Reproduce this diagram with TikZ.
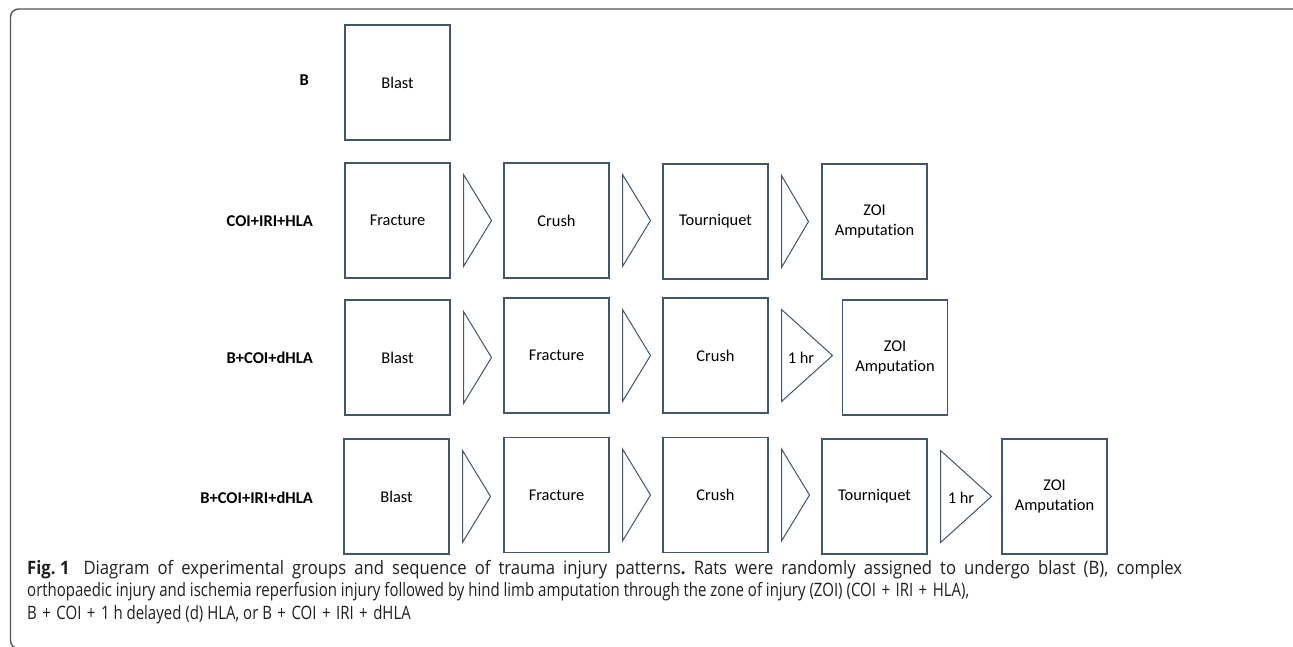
\documentclass[tikz,border=0pt]{standalone}
\usepackage{fontspec}
\setmainfont{Carlito}[Ligatures=NoCommon]
\newfontfamily\capfont[FakeStretch=0.81]{Open Sans}
\newfontfamily\capfontw[FakeStretch=0.9]{Open Sans}
\usetikzlibrary{calc}
\definecolor{boxc}{RGB}{68,84,106}
\definecolor{framec}{RGB}{85,85,85}
\definecolor{capc}{RGB}{35,31,32}
\newcommand\pl{\hspace{5.5pt}+\hspace{5.5pt}}
\tikzset{
  x=1pt, y=-1pt,
  stepbox/.style={draw=boxc, line width=1.2pt, minimum width=105pt, minimum height=115pt,
    inner sep=0pt, outer sep=0pt, align=center, text=black,
    font=\fontsize{16.4}{19.5}\selectfont},
  grplabel/.style={anchor=east, inner sep=0pt, font=\fontsize{16.5}{19.5}\selectfont\bfseries},
  chevline/.style={draw=boxc, line width=1pt, line join=miter},
  hrlabel/.style={inner sep=0pt, font=\fontsize{16.4}{19.5}\selectfont},
  capline/.style={anchor=base west, inner sep=0pt, text=capc, font=\capfont\fontsize{18.5}{22.7}\selectfont\frenchspacing},
  caplinew/.style={capline, font=\capfontw\fontsize{18.5}{22.7}\selectfont\frenchspacing}
}
\newcommand\chevr[2]{%
  \draw[chevline] ($(#1.east)+(13.5,-46)$) -- ($(#1.east)+(13.5+#2,0)$) -- ($(#1.east)+(13.5,46)$) -- cycle;}
\begin{document}
\begin{tikzpicture}
\useasboundingbox (0,0) rectangle (1293,647);
\begin{scope}
\clip (0,0) rectangle (1293,647);
\draw[framec, line width=1.4pt, rounded corners=8pt] (10.5,9) rectangle (1301,648.5);
\end{scope}

% row 1
\node[grplabel] (l1) at (309,80) {B};
\node[stepbox] (r1a) at (397.5,82.5) {Blast};

% row 2
\node[grplabel] (l2) at (313,221) {COI+IRI+HLA};
\node[stepbox] (r2a) at (397.5,220.5) {Fracture};
\node[stepbox] (r2b) at (556.5,220.5) {Crush};
\node[stepbox] (r2c) at (715.5,221.5) {Tourniquet};
\node[stepbox] (r2d) at (874.5,221.5) {ZOI\\Amputation};
\chevr{r2a}{28}
\chevr{r2b}{28}
\chevr{r2c}{27}

% row 3
\node[grplabel] (l3) at (313,358) {B+COI+dHLA};
\node[stepbox] (r3a) at (397.5,357.5) {Blast};
\node[stepbox] (r3b) at (556.5,355.5) {Fracture};
\node[stepbox] (r3c) at (715.5,355.5) {Crush};
\node[stepbox] (r3d) at (895,357.5) {ZOI\\Amputation};
\chevr{r3a}{28}
\chevr{r3b}{28}
\chevr{r3c}{51}
\node[hrlabel] (h3) at (801,358) {1 hr};

% row 4
\node[grplabel] (l4) at (313,498) {B+COI+IRI+dHLA};
\node[stepbox] (r4a) at (396.5,496.5) {Blast};
\node[stepbox] (r4b) at (556.5,495) {Fracture};
\node[stepbox] (r4c) at (715.5,495) {Crush};
\node[stepbox] (r4d) at (874.5,496.5) {Tourniquet};
\node[stepbox] (r4e) at (1054.5,496.5) {ZOI\\Amputation};
\chevr{r4a}{28}
\chevr{r4b}{28}
\chevr{r4c}{28}
\chevr{r4d}{51}
\node[hrlabel] (h4) at (961,498) {1 hr};

% caption
\node[caplinew] (c1) at (27,574) {\makebox[1155pt][s]{\textbf{Fig.\hspace{4.5pt}1}\hspace{14pt}Diagram of experimental groups and sequence of trauma injury patterns\textbf{.} Rats were randomly assigned to undergo blast (B), complex}};
\node[capline] (c2) at (27,596.7) {orthopaedic injury and ischemia reperfusion injury followed by hind limb amputation through the zone of injury (ZOI) (COI\pl IRI\pl HLA),};
\node[capline] (c3) at (27,619.4) {B\pl COI\pl 1 h delayed (d) HLA, or B\pl COI\pl IRI\pl dHLA};
\end{tikzpicture}
\end{document}
